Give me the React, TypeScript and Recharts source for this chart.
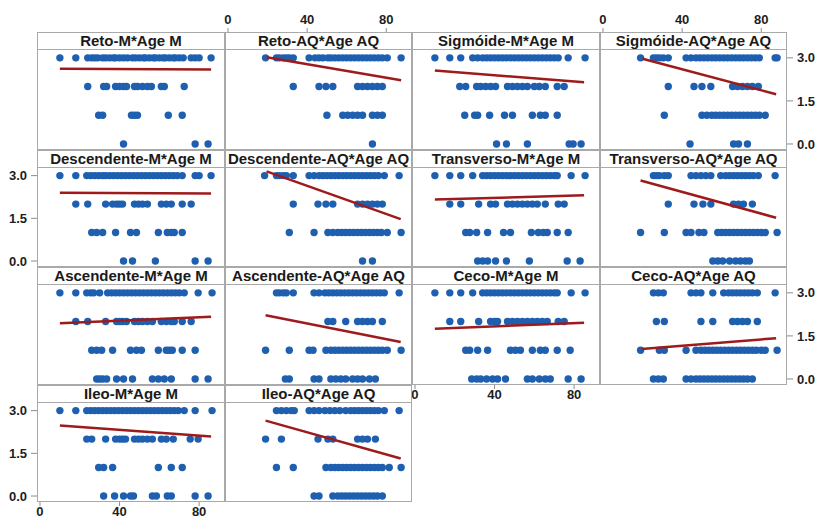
import { Scatter, ScatterChart, XAxis, YAxis } from "recharts";

// score levels, in the same order as the age lists of each panel
const scores = [0, 1, 2, 3];
const xTicks = [0, 40, 80];
const yTicks = [0, 1.5, 3];
const ageDomain = [-1.5, 93];
const scoreDomain = [-0.21, 3.9];

// ages per score level: [score 0, score 1, score 2, score 3]
const retoM = [
    [42, 78, 84.5],
    [29.5, 31.5, 46, 47.5, 49, 64.5, 71.5],
    [24, 32, 33.5, 38, 40, 42, 43.5, 47.5, 49, 51.5, 54, 56, 61, 62.5, 72.5],
    [10, 18, 24, 26, 27.5, 29, 31.5, 33, 35, 37, 38, 40, 42, 44, 46.5, 48, 50, 52, 53, 55, 57, 58, 60, 62, 63, 65, 67, 68, 70, 72, 76, 78, 80, 86],
];
const retoAQ = [
    [73],
    [50, 58, 60.5, 63, 65.5, 68, 73, 75.5, 78],
    [33, 46, 49.5, 53, 65.5, 68, 70.5, 73, 75.5, 78],
    [19, 24.5, 26, 28, 29.5, 31, 33, 41, 44, 46, 48, 50.5, 52, 54, 56, 58, 60, 62, 64, 66, 68, 70, 72, 74, 76, 78, 80.5, 87.5],
];
const sigmoideM = [
    [41, 46, 56.5, 77.5, 79.5, 83.5],
    [25, 30, 31.5, 37.5, 45, 49, 59, 63, 65.5, 71.5],
    [22.5, 25.5, 31, 33, 35.5, 38, 40.5, 46.5, 49, 51.5, 54, 56.5, 60, 62.5, 65.5, 71.5, 75],
    [10, 17.5, 23, 29, 31.5, 34, 36, 38, 40, 42, 44, 46, 48, 50, 52, 54, 56, 58, 60, 62, 64, 66, 68, 70, 72, 77, 85.5],
];
const sigmoideAQ = [
    [44, 66, 68.5, 73],
    [31, 50, 52.5, 55, 57, 59, 61, 63, 65, 67, 69, 71, 73, 75, 77, 79, 82],
    [33, 46, 50, 54.5, 65.5, 68, 70.5, 73, 75.5, 78.5],
    [19, 25.5, 27, 28.5, 30.5, 33, 42, 44.5, 47, 49, 51, 53, 55, 57, 59, 61, 63, 65, 67, 69, 71, 73, 75, 77, 79, 87, 88],
];
const descendenteM = [
    [42, 46.5, 58, 78, 84.5],
    [26, 28.5, 31.5, 38, 45.5, 48.5, 59.5, 64, 66, 67.5, 71.5],
    [18, 24, 33, 36.5, 38.5, 40, 41.5, 47.5, 49.5, 51.5, 54, 61, 63.5, 66, 71.5, 76],
    [10, 18, 23.5, 25.5, 27.5, 29.5, 31.5, 33, 35, 37, 39, 41, 43, 45, 47, 49, 51, 53, 55, 57, 59, 61, 63, 65, 67, 69, 71.5, 78, 80, 86],
];
const descendenteAQ = [
    [68, 73],
    [31, 43.5, 50.5, 53, 55.5, 57.5, 59.5, 61.5, 63.5, 65.5, 67.5, 69.5, 71.5, 73.5, 75.5, 77.5, 80.5, 87.5],
    [33, 45.5, 49.5, 53, 65.5, 68, 70.5, 73, 75.5, 78],
    [18.5, 24.5, 26, 28, 29.5, 33, 41, 43.5, 46, 48, 50, 52, 54, 56, 58, 60, 62, 64, 66, 68, 70, 72, 74, 76, 79, 86.5],
];
const transversoM = [
    [31.5, 34, 36.5, 40.5, 46, 57.5, 76.5, 83],
    [25.5, 27.5, 31, 36.5, 44.5, 48, 58.5, 62, 64.5, 66.5, 71.5, 77],
    [17.5, 23, 32, 38, 40.5, 46.5, 49, 51.5, 54, 56.5, 59, 61.5, 65.5, 72, 75],
    [10, 17.5, 23, 29, 34, 36, 38, 40, 42, 44, 46, 48, 50, 52, 54, 56, 58, 60, 62, 64, 66, 68, 70, 71.5, 78.5, 85.5],
];
const transversoAQ = [
    [55.5, 58, 60.5, 64, 67, 69.5, 72, 74],
    [19, 31, 42, 44.5, 48.5, 51, 58, 60, 62, 64, 66, 68, 70, 72, 74, 76, 78, 80, 82, 88],
    [33, 46, 50.5, 54.5, 66, 68.5, 71, 75.5],
    [25.5, 27, 28.5, 31, 33, 44.5, 47, 49.5, 52, 54.5, 59.5, 62, 64, 66, 68, 70, 72, 74, 76, 78.5, 87],
];
const ascendenteM = [
    [28.5, 30, 31.5, 33.5, 38.5, 42, 46.5, 56.5, 59.5, 62.5, 66, 78, 84.5],
    [26, 28.5, 31, 36.5, 45.5, 48.5, 51, 59.5, 63.5, 65, 66.5, 71.5, 78],
    [18, 24, 33, 38.5, 40, 41.5, 43.5, 47.5, 49.5, 51.5, 54, 56.5, 61, 63.5, 66, 67.5, 71.5, 76],
    [10, 18, 23.5, 25.5, 27, 30, 34, 36, 38, 40, 42, 44, 46, 48, 50, 52, 54, 56, 58, 60, 62, 64, 66, 68, 70, 72.5, 79.5, 86.5],
];
const ascendenteAQ = [
    [29, 31, 43.5, 46, 52, 54.5, 57, 59.5, 63, 65.5, 68, 71.5, 74.5],
    [19, 31, 41, 43, 49.5, 52, 54, 56, 58, 60, 62, 64, 66, 68, 70, 72, 74, 76, 78, 80.5, 87.5],
    [50.5, 53, 59.5, 65.5, 68, 70.5, 73, 78],
    [24.5, 26, 28, 29.5, 33, 43.5, 46, 49, 51, 53, 55, 57, 59, 61, 63, 65, 67, 69, 71, 73, 75, 77, 79, 86.5],
];
const cecoM = [
    [28.5, 31, 33, 36, 39, 41.5, 45.5, 56.5, 59, 62.5, 65.5, 68, 77, 83.5],
    [25.5, 27.5, 31.5, 36.5, 48, 50.5, 53, 59, 63, 65.5, 71.5, 78],
    [17.5, 23, 32, 38, 40, 41.5, 46.5, 49, 51.5, 54, 56.5, 59, 61.5, 64, 66.5, 72, 75],
    [10, 17.5, 23, 29, 34, 36, 38, 40, 42, 44, 46, 48, 50, 52, 54, 56, 58, 60, 62, 64, 66, 68, 70, 71.5, 78.5, 85.5],
];
const cecoAQ = [
    [25.5, 28, 30.5, 42, 44.5, 47, 49, 51, 53, 55, 57, 59, 61, 63, 65, 67, 69, 71, 73, 75.5],
    [19, 28.5, 31, 42, 47, 49.5, 51.5, 53.5, 55.5, 57.5, 59.5, 61.5, 63.5, 65.5, 67.5, 69.5, 71.5, 73.5, 75.5, 77.5, 80, 82, 88],
    [27, 31, 49.5, 55.5, 65.5, 68, 70.5, 73, 78],
    [25.5, 28, 30.5, 44.5, 47, 49.5, 55.5, 61, 63.5, 65.5, 67.5, 69.5, 71.5, 73.5, 75.5, 78, 87],
];
const ileoM = [
    [32, 37.5, 42, 45.5, 47, 56.5, 58.5, 64, 66, 78, 84.5],
    [29.5, 32, 36.5, 59.5, 66, 71.5],
    [23.5, 26, 33, 38, 40, 41.5, 43, 47.5, 49.5, 51.5, 54, 56.5, 61, 63.5, 67, 75.5, 79.5],
    [10, 18, 23.5, 25.5, 27.5, 29.5, 31.5, 33.5, 35.5, 37.5, 39.5, 41.5, 43.5, 45.5, 47.5, 49.5, 51.5, 53.5, 55.5, 57.5, 59.5, 61.5, 63.5, 65.5, 67.5, 69.5, 72.5, 78, 86.5],
];
const ileoAQ = [
    [43.5, 46, 53, 55.5, 57.5, 59.5, 61.5, 63.5, 65.5, 67.5, 69.5, 71.5, 73.5, 75.5, 78],
    [24.5, 33, 49.5, 52, 54, 56, 58, 60, 62, 64, 66, 68, 70, 72, 74, 76, 78, 81.5, 87.5],
    [19, 27, 45.5, 50.5, 53, 65.5, 68, 70.5, 74.5],
    [24.5, 27, 29.5, 32, 33.5, 41, 43.5, 46, 49, 51.5, 54, 56.5, 59.5, 62, 64, 66, 68, 70, 72, 74, 76, 79, 86.5],
];

// fitted lines: [age start, score start, age end, score end]
const retoMFit = [10, 2.62, 86, 2.59];
const retoAQFit = [19.5, 3.02, 87.5, 2.22];
const sigmoideMFit = [10, 2.56, 85, 2.15];
const sigmoideAQFit = [20, 2.97, 87.5, 1.73];
const descendenteMFit = [10, 2.4, 86, 2.37];
const descendenteAQFit = [19.5, 3.15, 87.3, 1.47];
const transversoMFit = [10, 2.16, 85, 2.31];
const transversoAQFit = [19, 2.83, 87.5, 1.52];
const ascendenteMFit = [10, 1.94, 86, 2.17];
const ascendenteAQFit = [19, 2.22, 87.3, 1.29];
const cecoMFit = [10, 1.75, 85, 1.96];
const cecoAQFit = [19.5, 1.04, 87.5, 1.42];
const ileoMFit = [10, 2.48, 86, 2.09];
const ileoAQFit = [19, 2.65, 87.3, 1.32];

const panels = [
    { title: "Reto-M*Age M", ages: retoM, fit: retoMFit, row: 0, col: 0 },
    { title: "Reto-AQ*Age AQ", ages: retoAQ, fit: retoAQFit, row: 0, col: 1 },
    { title: "Sigmóide-M*Age M", ages: sigmoideM, fit: sigmoideMFit, row: 0, col: 2 },
    { title: "Sigmóide-AQ*Age AQ", ages: sigmoideAQ, fit: sigmoideAQFit, row: 0, col: 3 },
    { title: "Descendente-M*Age M", ages: descendenteM, fit: descendenteMFit, row: 1, col: 0 },
    { title: "Descendente-AQ*Age AQ", ages: descendenteAQ, fit: descendenteAQFit, row: 1, col: 1 },
    { title: "Transverso-M*Age M", ages: transversoM, fit: transversoMFit, row: 1, col: 2 },
    { title: "Transverso-AQ*Age AQ", ages: transversoAQ, fit: transversoAQFit, row: 1, col: 3 },
    { title: "Ascendente-M*Age M", ages: ascendenteM, fit: ascendenteMFit, row: 2, col: 0 },
    { title: "Ascendente-AQ*Age AQ", ages: ascendenteAQ, fit: ascendenteAQFit, row: 2, col: 1 },
    { title: "Ceco-M*Age M", ages: cecoM, fit: cecoMFit, row: 2, col: 2 },
    { title: "Ceco-AQ*Age AQ", ages: cecoAQ, fit: cecoAQFit, row: 2, col: 3 },
    { title: "Ileo-M*Age M", ages: ileoM, fit: ileoMFit, row: 3, col: 0 },
    { title: "Ileo-AQ*Age AQ", ages: ileoAQ, fit: ileoAQFit, row: 3, col: 1 },
];

const colX = [37, 225, 412, 600];
const colW = [188, 187, 188, 187];
const rowY = [32, 150, 267, 385];
const rowH = [118, 117, 118, 117];
const HEAD = 17;
const PAD = 40;
const FONT = "'Liberation Sans', Arial, sans-serif";
const BORDER = "#a9a9a9";
const tickStyle = { fontSize: 13, fontWeight: 700, fill: "#1e1e1e", fontFamily: FONT };

const Dot = (props: any) => <circle cx={props.cx} cy={props.cy} r={3.7} fill="#1f5fb0" />;
const NoDot = () => <g />;

function Panel({ p }: { p: (typeof panels)[number] }) {
    const top = p.row === 0 && (p.col === 1 || p.col === 3);
    const bottom = (p.row === 3 && p.col === 0) || (p.row === 2 && p.col === 2);
    const left = p.col === 0 && (p.row === 1 || p.row === 3);
    const right = p.col === 3 && (p.row === 0 || p.row === 2);
    const x = colX[p.col];
    const y = rowY[p.row];
    const w = colW[p.col];
    const h = rowH[p.row];
    const points = p.ages.flatMap((list, i) => list.map((a) => ({ age: a, score: scores[i] })));
    const fitLine = [
        { age: p.fit[0], score: p.fit[1] },
        { age: p.fit[2], score: p.fit[3] },
    ];

    return (
        <>
            <div
                style={{
                    position: "absolute",
                    left: x,
                    top: y,
                    width: w,
                    height: h,
                    border: `1px solid ${BORDER}`,
                    boxSizing: "border-box",
                }}
            >
                <div
                    style={{
                        height: HEAD - 1,
                        lineHeight: `${HEAD - 1}px`,
                        borderBottom: `1px solid ${BORDER}`,
                        textAlign: "center",
                        fontFamily: FONT,
                        fontWeight: 700,
                        fontSize: 15,
                        color: "#1a1a1a",
                        whiteSpace: "nowrap",
                    }}
                >
                    {p.title}
                </div>
            </div>
            <div style={{ position: "absolute", left: x - PAD, top: y - PAD }}>
                <ScatterChart
                    width={w + 2 * PAD}
                    height={h + 2 * PAD}
                    margin={{
                        top: top ? 0 : PAD,
                        bottom: bottom ? 0 : PAD,
                        left: left ? 0 : PAD,
                        right: right ? 0 : PAD,
                    }}
                >
                    <XAxis
                        type="number"
                        dataKey="age"
                        domain={ageDomain}
                        allowDataOverflow
                        ticks={xTicks}
                        hide={!top && !bottom}
                        orientation={top ? "top" : "bottom"}
                        height={PAD}
                        axisLine={false}
                        tickLine={{ stroke: "#8c8c8c" }}
                        tickSize={4}
                        tickMargin={top ? 4 : 1}
                        tick={tickStyle}
                    />
                    <YAxis
                        type="number"
                        dataKey="score"
                        domain={scoreDomain}
                        allowDataOverflow
                        ticks={yTicks}
                        hide={!left && !right}
                        orientation={left ? "left" : "right"}
                        width={PAD}
                        axisLine={false}
                        tickLine={{ stroke: "#8c8c8c" }}
                        tickSize={6}
                        tickMargin={4}
                        tick={tickStyle}
                        tickFormatter={(v: number) => v.toFixed(1)}
                    />
                    <Scatter data={points} shape={Dot} isAnimationActive={false} />
                    <Scatter
                        data={fitLine}
                        shape={NoDot}
                        line={{ stroke: "#9e1b1b", strokeWidth: 2.5 }}
                        isAnimationActive={false}
                    />
                </ScatterChart>
            </div>
        </>
    );
}

export default function App() {
    return (
        <div
            style={{
                position: "absolute",
                left: 0,
                top: 0,
                width: 819,
                height: 518,
                overflow: "hidden",
                background: "#fff",
            }}
        >
            {panels.map((p) => (
                <Panel key={p.title} p={p} />
            ))}
        </div>
    );
}
